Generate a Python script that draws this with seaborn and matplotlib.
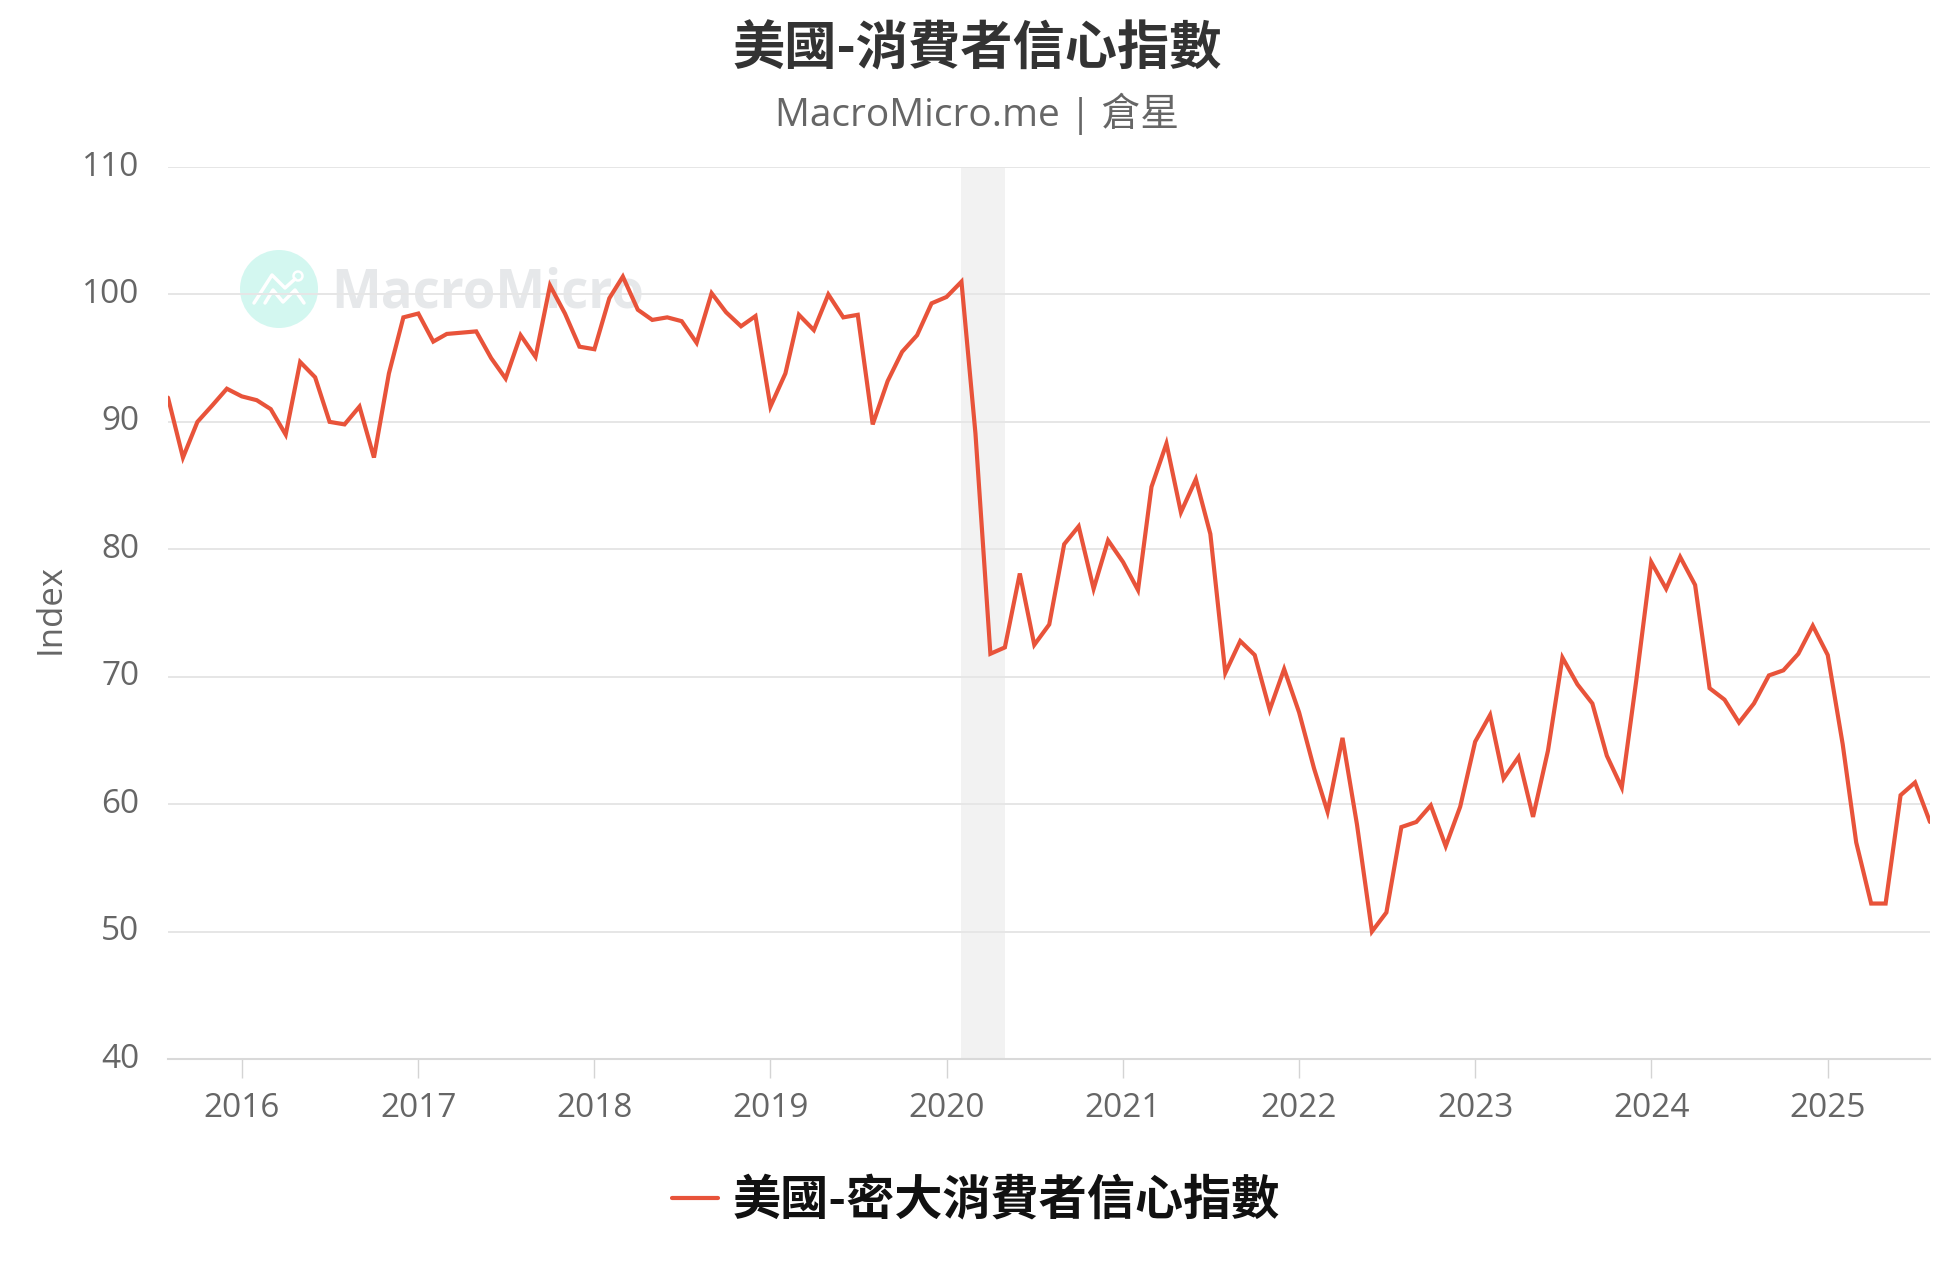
import pandas as pd
import matplotlib
matplotlib.use("Agg")
import matplotlib.pyplot as plt
import matplotlib.dates as mdates
import matplotlib.patches as mpatches
from matplotlib.font_manager import FontProperties
from matplotlib.transforms import ScaledTranslation
import seaborn as sns

# monthly readings, Aug 2015 - Aug 2025
start_month = "2015-08-01"
values = [
    91.9, 87.2, 90.0, 91.3, 92.6,
    92.0, 91.7, 91.0, 89.0, 94.7, 93.5, 90.0, 89.8, 91.2, 87.2, 93.8, 98.2,
    98.5, 96.3, 96.9, 97.0, 97.1, 95.0, 93.4, 96.8, 95.1, 100.7, 98.5, 95.9,
    95.7, 99.7, 101.4, 98.8, 98.0, 98.2, 97.9, 96.2, 100.1, 98.6, 97.5, 98.3,
    91.2, 93.8, 98.4, 97.2, 100.0, 98.2, 98.4, 89.8, 93.2, 95.5, 96.8, 99.3,
    99.8, 101.0, 89.1, 71.8, 72.3, 78.1, 72.5, 74.1, 80.4, 81.8, 76.9, 80.7,
    79.0, 76.8, 84.9, 88.3, 82.9, 85.5, 81.2, 70.3, 72.8, 71.7, 67.4, 70.6,
    67.2, 62.8, 59.4, 65.2, 58.4, 50.0, 51.5, 58.2, 58.6, 59.9, 56.7, 59.8,
    64.9, 67.0, 62.0, 63.7, 59.0, 64.2, 71.5, 69.4, 67.9, 63.8, 61.3, 69.7,
    79.0, 76.9, 79.4, 77.2, 69.1, 68.2, 66.4, 67.9, 70.1, 70.5, 71.8, 74.0,
    71.7, 64.7, 57.0, 52.2, 52.2, 60.7, 61.7, 58.6,
]
recession_start = "2020-02-01"
recession_end = "2020-05-01"
y_ticks = [40, 50, 60, 70, 80, 90, 100, 110]
x_years = list(range(2016, 2026))

title = "美國-消費者信心指數"
subtitle = "MacroMicro.me | 倉星"
series_name = "美國-密大消費者信心指數"
y_label = "Index"

W, H = 1950, 1270
CJK = ["Noto Sans CJK TC"]
MIXED = ["Open Sans", "Noto Sans CJK TC"]
GREY = "#666666"

df = pd.DataFrame({
    "date": pd.date_range(start_month, periods=len(values), freq="MS"),
    "value": values,
})

sns.set_theme(style="white")
plt.rcParams["font.family"] = MIXED

fig = plt.figure(figsize=(W / 100, H / 100), dpi=100, facecolor="white")
ax = fig.add_axes([168 / W, 1 - 1059 / H, (1930 - 168) / W, (1059 - 167) / H])

sns.lineplot(data=df, x="date", y="value", ax=ax, color="#E8533A", linewidth=3,
             label=series_name, solid_joinstyle="miter", zorder=3)

ax.axvspan(pd.Timestamp(recession_start), pd.Timestamp(recession_end),
           color="#F2F2F2", lw=0, zorder=0.2)

ax.set_xlim(df["date"].iloc[0], df["date"].iloc[-1])
ax.set_ylim(40, 110)
ax.set_yticks(y_ticks)
ax.set_xticks([pd.Timestamp(f"{y}-01-01") for y in x_years])
ax.xaxis.set_major_formatter(mdates.DateFormatter("%Y"))
ax.set_xlabel("")
ax.set_ylabel(y_label, fontsize=25, color=GREY, fontfamily=MIXED)
ax.yaxis.set_label_coords(68 / W, 1 - 609 / H, transform=fig.transFigure)

ax.set_axisbelow(True)
ax.grid(axis="y", color="#E6E6E6", lw=1.4)
ax.grid(axis="x", visible=False)
for side in ["top", "left", "right"]:
    ax.spines[side].set_visible(False)
ax.spines["bottom"].set_color("#D9D9D9")
ax.spines["bottom"].set_linewidth(1.5)

ax.tick_params(axis="x", length=14, width=1, color="#D4D4D4", labelsize=24,
               labelcolor=GREY, pad=10, bottom=True)
ax.tick_params(axis="y", length=0, labelsize=24, labelcolor=GREY, pad=20.5)
shift = ScaledTranslation(0, 4 / 100, fig.dpi_scale_trans)
for lab in ax.get_yticklabels():
    lab.set_transform(lab.get_transform() + shift)

# watermark behind the grid
to_fig = fig.transFigure
ax.add_patch(mpatches.Ellipse((279 / W, 1 - 289 / H), 78 / W, 78 / H, transform=to_fig,
                              facecolor="#D3F7F0", edgecolor="none", zorder=0.1, clip_on=False))
ax.text(331 / W, 1 - 293 / H, "MacroMicro", transform=to_fig, fontsize=38, weight="bold",
        color="#E6E8EA", va="center", ha="left", zorder=0.1, fontfamily=["Open Sans"])
icon_a = ([254, 272, 285, 295], [303, 275, 288, 279])
icon_b = ([265, 273, 283, 295, 304], [303, 290, 302, 290, 303])
for xs, ys in (icon_a, icon_b):
    ax.plot([v / W for v in xs], [1 - v / H for v in ys], transform=to_fig,
            color="white", lw=2.5, zorder=0.15, clip_on=False, solid_capstyle="round")
ax.add_patch(mpatches.Ellipse((298 / W, 1 - 276 / H), 9 / W, 9 / H, transform=to_fig,
                              facecolor="none", edgecolor="white", lw=1.8, zorder=0.15, clip_on=False))

fig.text(977 / W, 1 - 49 / H, title, ha="center", va="center", fontsize=37.6,
         weight="bold", color="#333333", fontfamily=CJK)
fig.text(977 / W, 1 - 114 / H, subtitle, ha="center", va="center", fontsize=28,
         color=GREY, fontfamily=MIXED)

ax.legend(loc="center", bbox_to_anchor=(976 / W, 1 - 1200 / H), bbox_transform=to_fig,
          frameon=False, handlelength=0.96, handletextpad=0.3,
          prop=FontProperties(family=CJK, weight="bold", size=34.7),
          labelcolor="#111111")

fig.savefig("out.png", dpi=100)
